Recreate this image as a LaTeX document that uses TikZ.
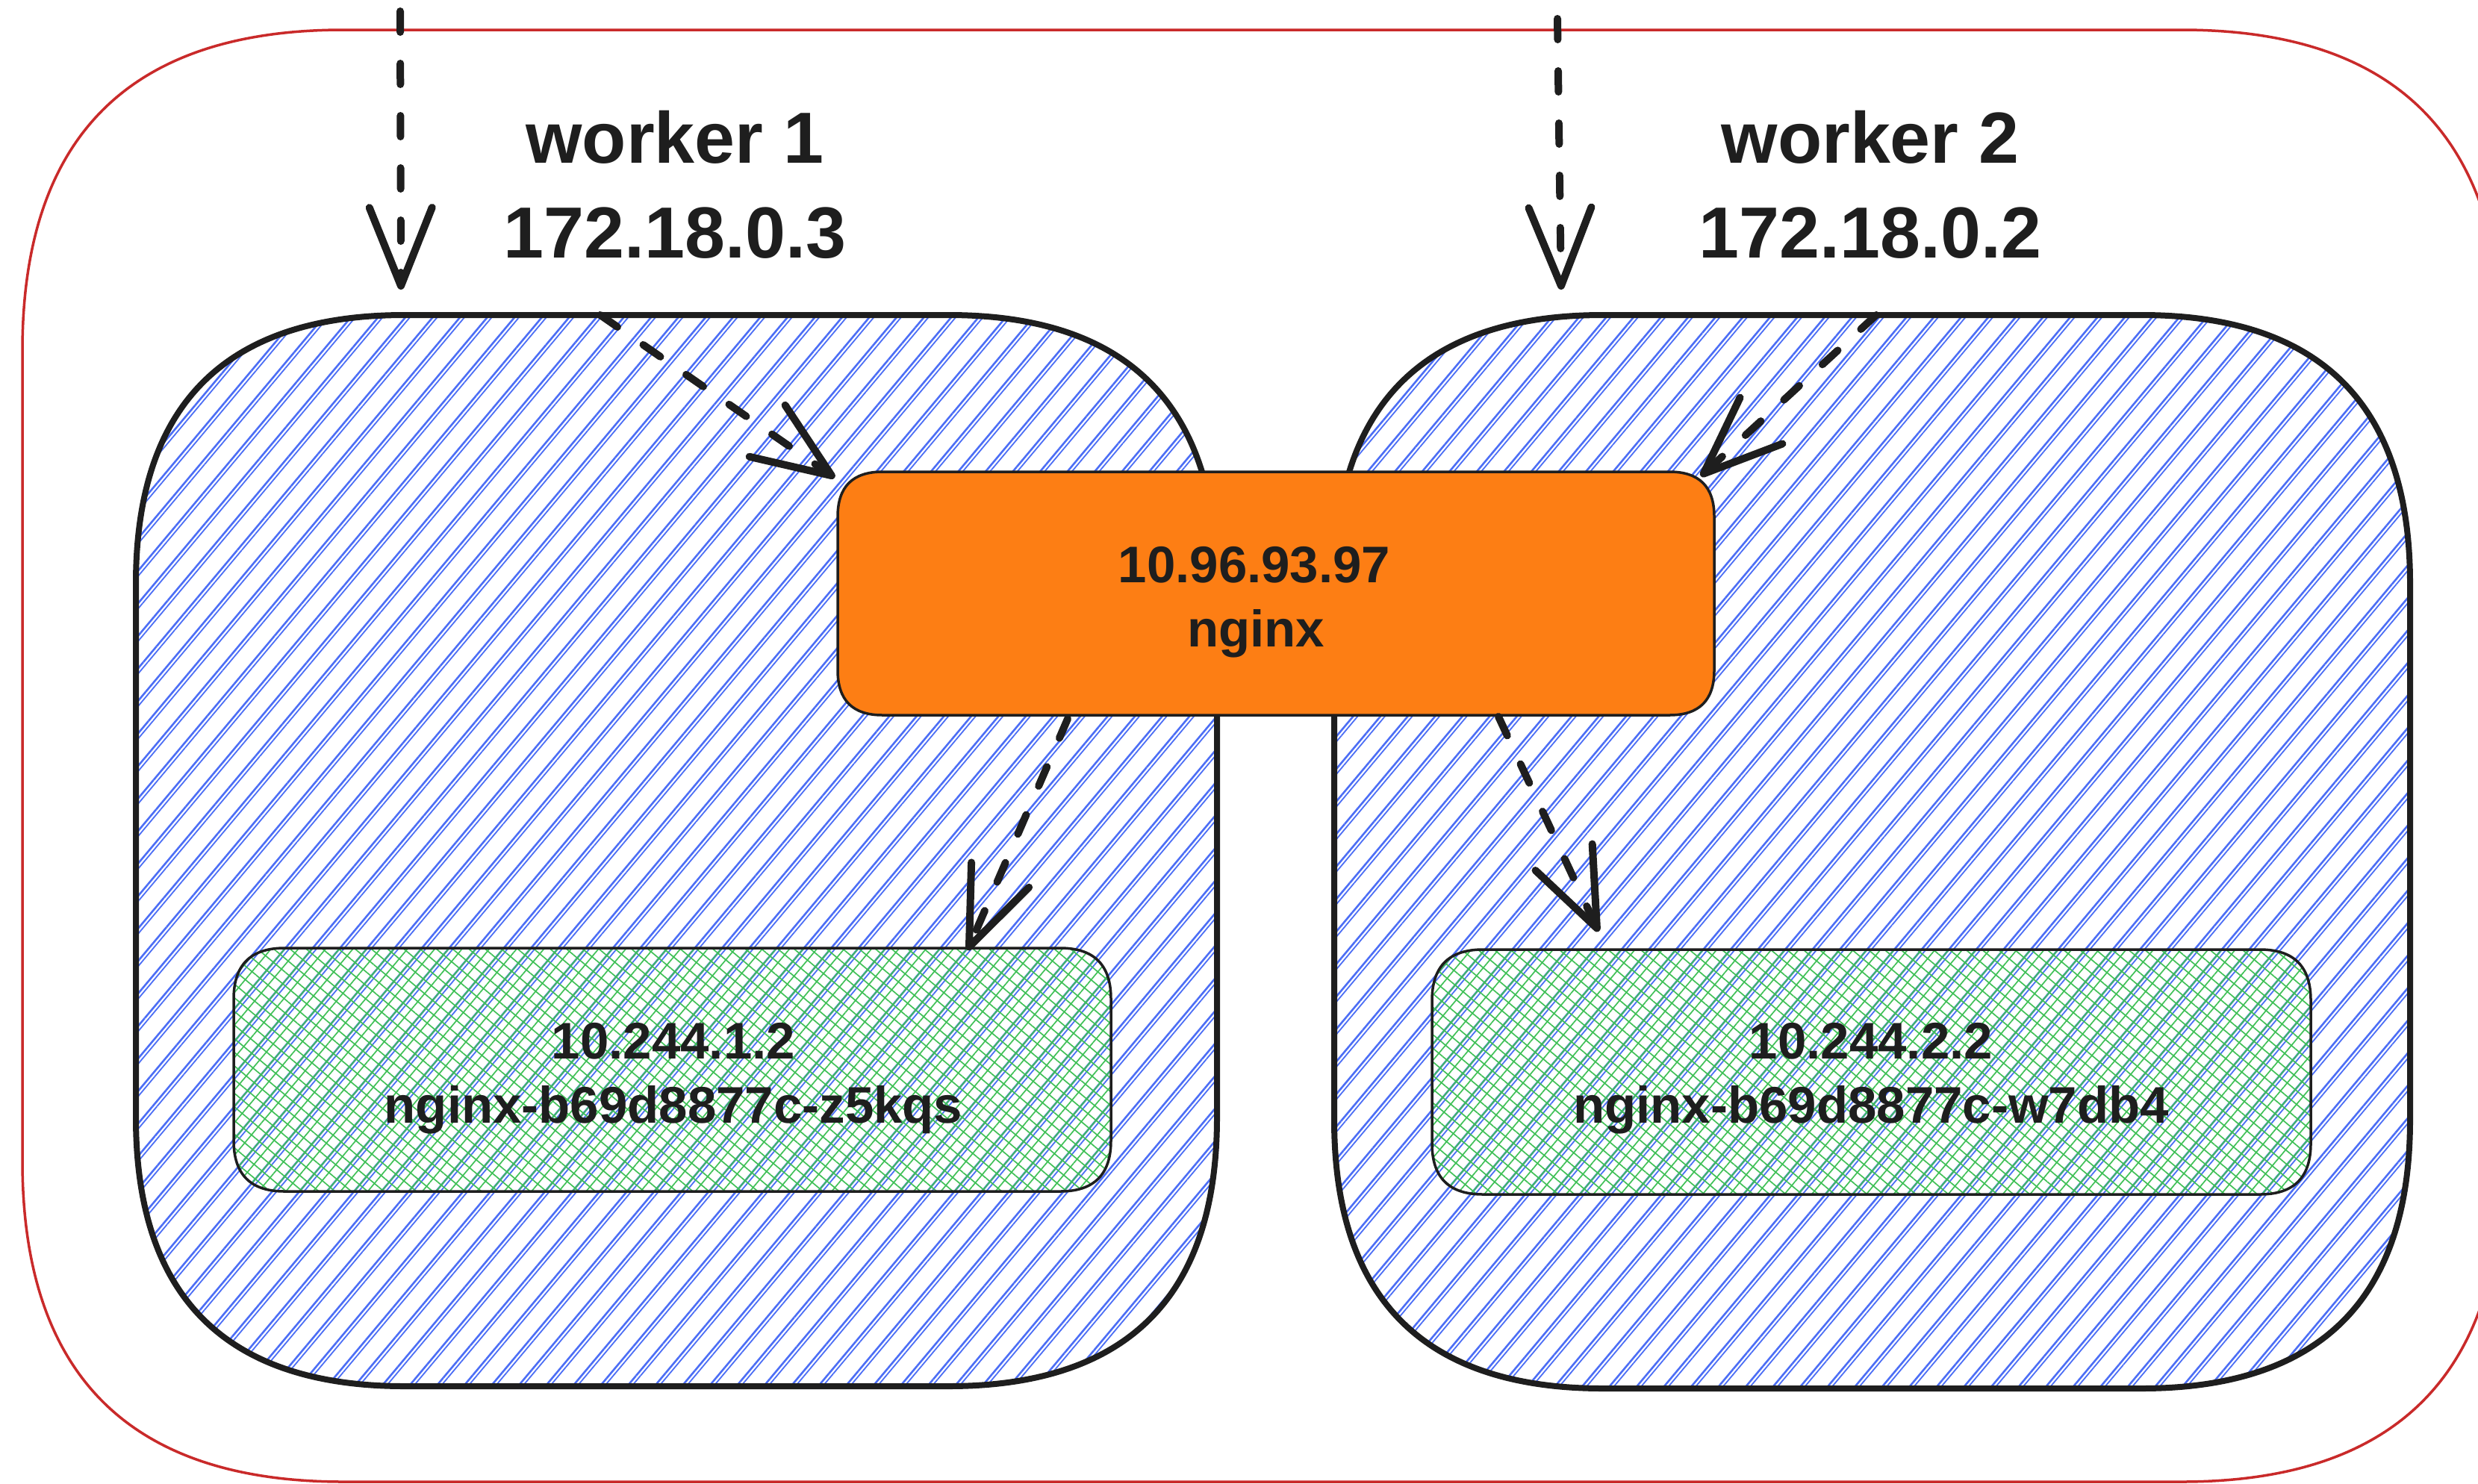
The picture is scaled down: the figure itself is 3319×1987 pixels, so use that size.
\documentclass[tikz,border=0pt]{standalone}
\usepackage{fontspec}
\setmainfont{Liberation Sans}
\usetikzlibrary{arrows.meta,patterns.meta,calc}
\definecolor{hblue}{HTML}{4C6EF5}
\definecolor{hgreen}{HTML}{40C057}
\definecolor{svcorange}{HTML}{FD7E14}
\definecolor{framered}{HTML}{C92A2A}
\definecolor{ink}{HTML}{1E1E1E}
% rectangle with quadratic-looking rounded corners around a named node
\newcommand\qbox[3]{\path[#3] let \p1=(#1.north west), \p2=(#1.south east) in
 (\x1+#2pt,\y1) -- (\x2-#2pt,\y1)
 .. controls (\x2-#2pt/3,\y1) and (\x2,\y1-#2pt/3) .. (\x2,\y1-#2pt)
 -- (\x2,\y2+#2pt)
 .. controls (\x2,\y2+#2pt/3) and (\x2-#2pt/3,\y2) .. (\x2-#2pt,\y2)
 -- (\x1+#2pt,\y2)
 .. controls (\x1+#2pt/3,\y2) and (\x1,\y2+#2pt/3) .. (\x1,\y2+#2pt)
 -- (\x1,\y1-#2pt)
 .. controls (\x1,\y1-#2pt/3) and (\x1+#2pt/3,\y1) .. (\x1+#2pt,\y1) -- cycle;}
\tikzset{
 region/.style={rectangle, draw=none, inner sep=0pt, outer sep=0pt},
 bigtxt/.style={font=\fontsize{97}{121}\selectfont\bfseries, text=ink, inner sep=0pt, anchor=base},
 midtxt/.style={font=\fontsize{69}{86}\selectfont\bfseries, text=ink, inner sep=0pt, anchor=base},
 arr/.style={draw=ink, line width=10pt, line cap=round, dash pattern=on 28pt off 42pt,
   -{Straight Barb[length=105pt, width=84pt, round]}},
 bluehatch/.style={pattern={Lines[angle=50,distance=28pt,line width=2.6pt]}, pattern color=hblue},
 bluehatchB/.style={pattern={Lines[angle=50,distance=28pt,line width=1.8pt,xshift=6pt]}, pattern color=hblue},
 greenhatchA/.style={pattern={Lines[angle=50,distance=14pt,line width=1.7pt]}, pattern color=hgreen},
 greenhatchB/.style={pattern={Lines[angle=140,distance=14pt,line width=1.7pt]}, pattern color=hgreen},
}
\begin{document}
\begin{tikzpicture}[x=1pt,y=-1pt]
\useasboundingbox (0,0) rectangle (3319,1987);
% regions
\node[region, minimum width=3322pt, minimum height=1945pt] (frame) at (1691,1012.5) {};
\node[region, minimum width=1448pt, minimum height=1435pt] (w1) at (906,1139.5) {};
\node[region, minimum width=1441pt, minimum height=1438pt] (w2) at (2507.5,1141) {};
\node[region, minimum width=1174pt, minimum height=326pt] (svc) at (1709,795) {};
\node[region, minimum width=1175pt, minimum height=326pt] (p1) at (900.5,1433) {};
\node[region, minimum width=1177pt, minimum height=328pt] (p2) at (2506.5,1436) {};
% outer frame
\qbox{frame}{430}{draw=framered, line width=3.5pt}
% workers
\qbox{w1}{360}{bluehatch}
\qbox{w1}{360}{bluehatchB}
\qbox{w2}{360}{bluehatch}
\qbox{w2}{360}{bluehatchB}
\qbox{w1}{360}{draw=ink, line width=8pt, line join=round}
\qbox{w2}{360}{draw=ink, line width=8pt, line join=round}
% pods
\qbox{p1}{68}{greenhatchA}
\qbox{p1}{68}{greenhatchB}
\qbox{p1}{68}{draw=ink, line width=3.5pt}
\qbox{p2}{68}{greenhatchA}
\qbox{p2}{68}{greenhatchB}
\qbox{p2}{68}{draw=ink, line width=3.5pt}
% service
\qbox{svc}{60}{fill=svcorange, draw=ink, line width=3.5pt}
% labels
\node[bigtxt] (w1a) at (904,218) {worker 1};
\node[bigtxt] (w1b) at (904,345) {172.18.0.3};
\node[bigtxt] (w2a) at (2505,218) {worker 2};
\node[bigtxt] (w2b) at (2505,345) {172.18.0.2};
\node[midtxt] (svca) at (1680,780) {10.96.93.97};
\node[midtxt] (svcb) at (1682,866) {nginx};
\node[midtxt] (p1a) at (902,1418) {10.244.1.2};
\node[midtxt] (p1b) at (902,1504) {nginx-b69d8877c-z5kqs};
\node[midtxt] (p2a) at (2506,1418) {10.244.2.2};
\node[midtxt] (p2b) at (2506,1504) {nginx-b69d8877c-w7db4};
% arrows
\coordinate (in1) at (536,15);
\coordinate (in2) at (2086,25);
\draw[arr] (in1) -- ($(w1.north west)+(355,-34)$);
\draw[arr] (in2) -- ($(w2.north west)+(304,-34)$);
\draw[arr] ($(w1.north west)+(622,0)$) -- ($(svc.north west)+(-4,8)$);
\draw[arr] ($(w2.north west)+(726,0)$) -- ($(svc.north east)+(-18,6)$);
\draw[arr] ($(svc.south west)+(308,5)$) -- ($(p1.north west)+(983,3)$);
\draw[arr] ($(svc.south east)+(-289,2)$) -- ($(p2.north west)+(223,-24)$);
\end{tikzpicture}
\end{document}
